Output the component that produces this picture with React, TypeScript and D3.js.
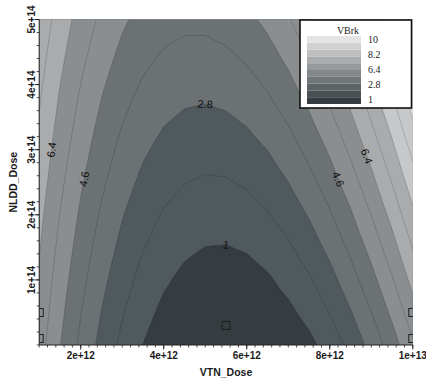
import React from "react";
import * as d3 from "d3";

// grid of the response surface: VTN dose (x) and NLDD dose (y)
const vtnDose = [1e12, 1.5e12, 2e12, 2.5e12, 3e12, 3.5e12, 4e12, 4.5e12, 5e12, 5.5e12, 6e12, 6.5e12, 7e12, 7.5e12, 8e12, 8.5e12, 9e12, 9.5e12, 1e13];
const nlddDose = [0, 1e14, 2e14, 3e14, 4e14, 5e14];

// VBrk, one row per NLDD dose
const vbrk0 = [5.9, 4.63, 3.5, 2.52, 1.68, 0.99, 0.45, 0.3, 0.24, 0.22, 0.23, 0.26, 0.34, 0.76, 1.39, 2.16, 3.09, 4.16, 5.37];
const vbrk1 = [6.27, 5.04, 3.97, 3.04, 2.26, 1.62, 1.13, 0.79, 0.59, 0.54, 0.63, 0.88, 1.27, 1.8, 2.48, 3.31, 4.29, 5.41, 6.68];
const vbrk2 = [6.65, 5.48, 4.46, 3.58, 2.85, 2.27, 1.83, 1.54, 1.39, 1.39, 1.54, 1.84, 2.28, 2.87, 3.6, 4.48, 5.51, 6.68, 8.0];
const vbrk3 = [7.06, 5.94, 4.97, 4.14, 3.46, 2.93, 2.54, 2.31, 2.21, 2.27, 2.47, 2.81, 3.31, 3.95, 4.73, 5.67, 6.75, 7.97, 9.34];
const vbrk4 = [7.48, 6.41, 5.49, 4.72, 4.09, 3.61, 3.28, 3.09, 3.05, 3.16, 3.41, 3.81, 4.36, 5.05, 5.89, 6.87, 8.0, 9.28, 10.71];
const vbrk5 = [7.92, 6.9, 6.04, 5.32, 4.74, 4.31, 4.03, 3.9, 3.91, 4.07, 4.37, 4.82, 5.42, 6.17, 7.06, 8.09, 9.28, 10.61, 12.08];
const vbrkRows = [vbrk0, vbrk1, vbrk2, vbrk3, vbrk4, vbrk5];

// design points (the little squares)
const pointVtn = [1e12, 1e12, 5.5e12, 1e13, 1e13];
const pointNldd = [1e13, 5e13, 3e13, 1e13, 5e13];

const fillLevels = [1, 2.8, 4.6, 6.4, 8.2, 10];
const lineLevels = [1, 1.9, 2.8, 3.7, 4.6, 5.5, 6.4, 7.3, 8.2, 9.1, 10];
const legendLevels = [1, 1.9, 2.8, 3.7, 4.6, 5.5, 6.4, 7.3, 8.2, 9.1, 10];
const legendTicks = [10, 8.2, 6.4, 2.8, 1];

const xTicks = [2e12, 4e12, 6e12, 8e12, 1e13];
const yTicks = [1e14, 2e14, 3e14, 4e14, 5e14];

// where the contour labels sit
const contourLabels = [
  { level: 1, vtn: 5.5e12 },
  { level: 2.8, vtn: 5.0e12 },
  { level: 6.4, nldd: 3.0e14, side: "left" },
  { level: 4.6, nldd: 2.55e14, side: "left" },
  { level: 6.4, nldd: 2.9e14, side: "right" },
  { level: 4.6, nldd: 2.55e14, side: "right" },
];

const W = 426, H = 378;
const x = d3.scaleLinear().domain([1e12, 1e13]).range([39.2, 412.8]);
const y = d3.scaleLinear().domain([0, 5e14]).range([345, 19.5]);

const gray = d3
  .scaleLinear<string>()
  .domain([0.5, 1.9, 3.7, 5.5, 7.3, 9.1, 10.5])
  .range(["#363d41", "#50595d", "#6c7174", "#8b8e91", "#a9abad", "#c7c8c9", "#e2e2e2"])
  .interpolate(d3.interpolateRgb)
  .clamp(true);

const legendGray = d3.interpolateRgb("#363d41", "#e4e4e4");

function vbrkAt(vx: number, vy: number) {
  const nx = vtnDose.length, ny = nlddDose.length;
  let fx = (vx - vtnDose[0]) / (vtnDose[1] - vtnDose[0]);
  let fy = (vy - nlddDose[0]) / (nlddDose[1] - nlddDose[0]);
  fx = Math.max(0, Math.min(nx - 1, fx));
  fy = Math.max(0, Math.min(ny - 1, fy));
  const i = Math.min(nx - 2, Math.floor(fx)), j = Math.min(ny - 2, Math.floor(fy));
  const tx = fx - i, ty = fy - j;
  const a = vbrkRows[j][i] * (1 - tx) + vbrkRows[j][i + 1] * tx;
  const b = vbrkRows[j + 1][i] * (1 - tx) + vbrkRows[j + 1][i + 1] * tx;
  return a * (1 - ty) + b * ty;
}

function solve(f: (v: number) => number, lo: number, hi: number, target: number) {
  let flo = f(lo) - target;
  for (let k = 0; k < 50; k++) {
    const mid = (lo + hi) / 2;
    const fm = f(mid) - target;
    if (Math.sign(fm) === Math.sign(flo)) { lo = mid; flo = fm; } else hi = mid;
  }
  return (lo + hi) / 2;
}

// finer grid for the contour generator
const NX = 181, NY = 101;
const stepX = (1e13 - 1e12) / (NX - 1), stepY = 5e14 / (NY - 1);
const values: number[] = new Array(NX * NY);
for (let j = 0; j < NY; j++)
  for (let i = 0; i < NX; i++) values[j * NX + i] = vbrkAt(1e12 + i * stepX, j * stepY);

const proj = d3.geoTransform({
  point(px: number, py: number) {
    (this as any).stream.point(x(1e12 + (px - 0.5) * stepX), y((py - 0.5) * stepY));
  },
});
const path = d3.geoPath(proj);

const fills = d3.contours().size([NX, NY]).thresholds(fillLevels)(values);
const lines = d3.contours().size([NX, NY]).thresholds(lineLevels)(values);

const fieldPx = (px: number, py: number) => vbrkAt(x.invert(px), y.invert(py));

const labels = contourLabels.map((l) => {
  let vx: number, vy: number;
  if (l.vtn !== undefined) {
    vx = l.vtn;
    vy = solve((v) => vbrkAt(vx, v), 0, 5e14, l.level);
  } else {
    vy = l.nldd as number;
    vx = l.side === "left"
      ? solve((v) => vbrkAt(v, vy), 1e12, 5e12, l.level)
      : solve((v) => vbrkAt(v, vy), 5.5e12, 1e13, l.level);
  }
  const px = x(vx), py = y(vy);
  const gx = fieldPx(px + 1, py) - fieldPx(px - 1, py);
  const gy = fieldPx(px, py + 1) - fieldPx(px, py - 1);
  let ang = (Math.atan2(gx, -gy) * 180) / Math.PI;
  if (ang > 90) ang -= 180;
  if (ang < -90) ang += 180;
  return { text: String(l.level), px, py, ang };
});

const fmt = d3.format(".0e");
const xMinor = d3.range(1e12, 1e13 + 1, 2e11);
const yMinor = d3.range(0, 5e14 + 1, 2e13);

const legendBar = d3.scaleLinear().domain([1, 10]).range([104, 36]);
const legendLabelY = d3.scalePoint<number>().domain(legendTicks).range([39, 99]);

const sans = "'Liberation Sans', Arial, sans-serif";
const serif = "'Liberation Serif', 'Times New Roman', serif";

export default function App() {
  const [x0, x1] = x.range();
  const [y0, y1] = y.range();
  return (
    <svg width={W} height={H} style={{ position: "absolute", left: 0, top: 0, background: "#fff" }}>
      <defs>
        <clipPath id="plot">
          <rect x={x0} y={y1} width={x1 - x0} height={y0 - y1} />
        </clipPath>
      </defs>
      <g clipPath="url(#plot)">
        <rect x={x0} y={y1} width={x1 - x0} height={y0 - y1} fill={gray(0.5)} />
        {fills.map((c, k) => {
          const lo = fillLevels[k];
          const hi = k + 1 < fillLevels.length ? fillLevels[k + 1] : lo + 1.8;
          return <path key={k} d={path(c as any) || ""} fill={gray((lo + hi) / 2)} stroke="none" />;
        })}
        {lines.map((c, k) => (
          <path key={k} d={path(c as any) || ""} fill="none" stroke="rgba(20,20,20,0.22)" strokeWidth={0.8} />
        ))}
        {pointVtn.map((v, k) => (
          <rect key={k} x={x(v) - 4} y={y(pointNldd[k]) - 4} width={8} height={8} fill="none" stroke="#1e1e1e" strokeWidth={1} />
        ))}
      </g>
      {labels.map((l, k) => (
        <text key={k} transform={`translate(${l.px},${l.py}) rotate(${l.ang})`} textAnchor="middle" dominantBaseline="central"
          fontFamily={sans} fontSize={11} fill="#111">{l.text}</text>
      ))}

      {/* axes */}
      <line x1={x0} x2={x1} y1={y0} y2={y0} stroke="#222" strokeWidth={1} />
      <line x1={x0} x2={x0} y1={y0} y2={y1} stroke="#222" strokeWidth={1} />
      {xMinor.map((v, k) => (
        <line key={k} x1={x(v)} x2={x(v)} y1={y0} y2={y0 + 2.5} stroke="#222" strokeWidth={0.8} />
      ))}
      {xTicks.map((v) => (
        <g key={v}>
          <line x1={x(v)} x2={x(v)} y1={y0} y2={y0 + 4.5} stroke="#222" strokeWidth={1} />
          <text x={x(v)} y={355.5} textAnchor="middle" dominantBaseline="central" fontFamily={sans} fontWeight="bold" fontSize={10} fill="#1a1a1a">{fmt(v)}</text>
        </g>
      ))}
      {yMinor.map((v, k) => (
        <line key={k} x1={x0 - 2.5} x2={x0} y1={y(v)} y2={y(v)} stroke="#222" strokeWidth={0.8} />
      ))}
      {yTicks.map((v) => (
        <g key={v}>
          <line x1={x0 - 4.5} x2={x0} y1={y(v)} y2={y(v)} stroke="#222" strokeWidth={1} />
          <text transform={`translate(31.5,${y(v)}) rotate(-90)`} textAnchor="middle" dominantBaseline="central" fontFamily={sans} fontWeight="bold" fontSize={10} fill="#1a1a1a">{fmt(v)}</text>
        </g>
      ))}
      <text x={(x0 + x1) / 2} y={372} textAnchor="middle" dominantBaseline="central" fontFamily={sans} fontWeight="bold" fontSize={10.5} fill="#1a1a1a">VTN_Dose</text>
      <text transform={`translate(13,${(y0 + y1) / 2}) rotate(-90)`} textAnchor="middle" dominantBaseline="central" fontFamily={sans} fontWeight="bold" fontSize={10.5} fill="#1a1a1a">NLDD_Dose</text>

      {/* legend */}
      <rect x={300} y={20} width={111.5} height={88} fill="#fff" stroke="#111" strokeWidth={1.6} />
      <text x={348} y={34} textAnchor="middle" fontFamily={serif} fontSize={10} fill="#222">VBrk</text>
      {legendLevels.slice(0, -1).map((v, k) => (
        <rect key={k} x={307} y={legendBar(legendLevels[k + 1])} width={54} height={legendBar(v) - legendBar(legendLevels[k + 1])}
          fill={legendGray(k / (legendLevels.length - 2))} />
      ))}
      {legendTicks.map((v) => (
        <text key={v} x={368} y={legendLabelY(v)} dominantBaseline="central" fontFamily={serif} fontSize={10} fill="#222">{v}</text>
      ))}
    </svg>
  );
}
